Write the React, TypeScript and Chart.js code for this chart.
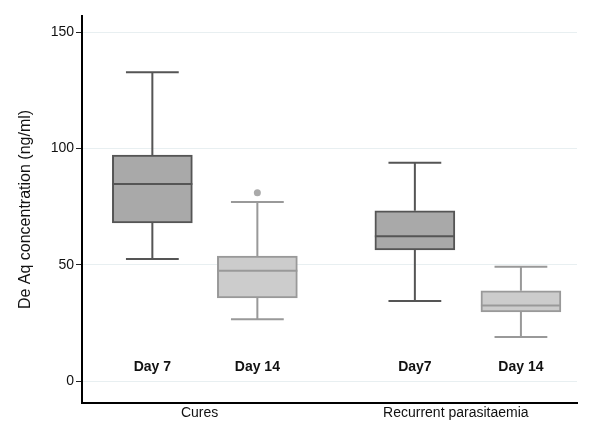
import React, { useEffect, useRef } from "react";
import { Chart, registerables } from "chart.js";

Chart.register(...registerables);

// Data
const dayLabels = ["Day 7", "Day 14", "Day7", "Day 14"];
const groupLabels = ["Cures", "Recurrent parasitaemia"];
const groupPos = [1.12, 3.56];
const xPos = [0.67, 1.67, 3.17, 4.18];
const whiskerLow = [52.4, 26.6, 34.4, 18.9];
const q1 = [68.0, 35.7, 56.4, 29.7];
const median = [84.7, 47.4, 62.2, 32.5];
const q3 = [97.1, 53.7, 73.2, 38.8];
const whiskerHigh = [132.7, 76.9, 93.8, 49.1];
const outliers = [{ x: 1.67, y: 80.9 }];
const yTicks = [0, 50, 100, 150];

const fillColors = ["#a9a9a9", "#cccccc", "#a9a9a9", "#cccccc"];
const lineColors = ["#555555", "#999999", "#555555", "#999999"];
const FONT = "'Liberation Sans', Arial, sans-serif";
const BOX_W = 80;

const boxPlugin = {
  id: "boxExtras",
  afterDatasetsDraw(chart: any) {
    const { ctx, scales } = chart;
    const xs = scales.x;
    const ys = scales.y;
    ctx.save();
    for (let i = 0; i < xPos.length; i++) {
      const cx = xs.getPixelForValue(xPos[i]);
      const half = BOX_W / 2;
      const cap = BOX_W * 0.33;
      ctx.strokeStyle = lineColors[i];
      ctx.lineWidth = 2;
      ctx.beginPath();
      ctx.moveTo(cx, ys.getPixelForValue(q3[i]));
      ctx.lineTo(cx, ys.getPixelForValue(whiskerHigh[i]));
      ctx.moveTo(cx - cap, ys.getPixelForValue(whiskerHigh[i]));
      ctx.lineTo(cx + cap, ys.getPixelForValue(whiskerHigh[i]));
      ctx.moveTo(cx, ys.getPixelForValue(q1[i]));
      ctx.lineTo(cx, ys.getPixelForValue(whiskerLow[i]));
      ctx.moveTo(cx - cap, ys.getPixelForValue(whiskerLow[i]));
      ctx.lineTo(cx + cap, ys.getPixelForValue(whiskerLow[i]));
      ctx.moveTo(cx - half, ys.getPixelForValue(median[i]));
      ctx.lineTo(cx + half, ys.getPixelForValue(median[i]));
      ctx.stroke();

      ctx.fillStyle = "#111111";
      ctx.font = `bold 14px ${FONT}`;
      ctx.textAlign = "center";
      ctx.textBaseline = "middle";
      ctx.fillText(dayLabels[i], cx, ys.getPixelForValue(6));
    }
    ctx.restore();
  },
};

export default function App() {
  const ref = useRef<HTMLCanvasElement | null>(null);
  useEffect(() => {
    if (!ref.current) return;
    const chart = new Chart(ref.current, {
      type: "bar",
      data: {
        datasets: [
          {
            type: "bar",
            data: xPos.map((x, i) => ({ x, y: [q1[i], q3[i]] })) as any,
            backgroundColor: fillColors,
            borderColor: lineColors,
            borderWidth: 2,
            borderSkipped: false,
            barThickness: BOX_W,
          } as any,
          {
            type: "scatter",
            data: outliers,
            pointRadius: 3.5,
            pointBackgroundColor: "#aaaaaa",
            pointBorderWidth: 0,
            pointBorderColor: "#aaaaaa",
          } as any,
        ],
      },
      options: {
        animation: false,
        responsive: false,
        maintainAspectRatio: false,
        layout: { padding: { left: 0, top: 16, right: 23, bottom: 0 } },
        plugins: {
          legend: { display: false },
          tooltip: { enabled: false },
        },
        scales: {
          x: {
            type: "linear",
            offset: false,
            min: 0,
            max: 4.714,
            afterBuildTicks: (s: any) => {
              s.ticks = groupPos.map((v) => ({ value: v }));
            },
            afterFit: (s: any) => {
              s.height = 35;
            },
            ticks: {
              autoSkip: false,
              maxRotation: 0,
              padding: 2,
              color: "#111111",
              font: { family: FONT, size: 14 },
              callback: (_v: any, i: number) => groupLabels[i],
            },
            grid: { display: false, drawTicks: false, offset: false },
            border: { display: true, color: "#000000", width: 2 },
          },
          y: {
            type: "linear",
            min: -9.45,
            max: 156.9,
            afterBuildTicks: (s: any) => {
              s.ticks = yTicks.map((v) => ({ value: v }));
            },
            afterFit: (s: any) => {
              s.width = 82;
            },
            ticks: {
              padding: 2,
              color: "#111111",
              font: { family: FONT, size: 14 },
            },
            grid: {
              color: "#e8eff1",
              lineWidth: 1,
              drawTicks: true,
              tickLength: 6,
              tickColor: "#222222",
              tickWidth: 1,
            },
            border: { display: true, color: "#000000", width: 2 },
            title: {
              display: true,
              text: "De Aq concentration (ng/ml)",
              color: "#111111",
              font: { family: FONT, size: 16 },
              padding: { top: 16, bottom: 0 },
            },
          },
        },
      },
      plugins: [boxPlugin],
    });
    return () => chart.destroy();
  }, []);
  return (
    <div style={{ position: "fixed", left: 0, top: 0, width: 600, height: 438, background: "#fff" }}>
      <canvas ref={ref} width={600} height={438} style={{ width: 600, height: 438 }} />
    </div>
  );
}
